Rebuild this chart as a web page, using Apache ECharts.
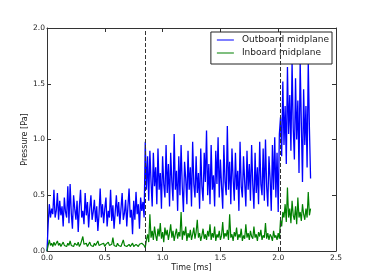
<!DOCTYPE html>
<html>
<head>
<meta charset="utf-8">
<script src="https://cdn.jsdelivr.net/npm/echarts@6/dist/echarts.min.js"></script>
<style>html,body{margin:0;padding:0;background:#fff}#c{width:374px;height:280px}</style>
</head>
<body>
<div id="c"></div>
<script>
// sampling grid of the time axis (ms)
const timeStart = 0.0;
const timeStep = 0.01;
const xTicks = [0.0, 0.5, 1.0, 1.5, 2.0, 2.5];
const yTicks = [0.0, 0.5, 1.0, 1.5, 2.0];
const seriesNames = ['Outboard midplane', 'Inboard midplane'];
const seriesColors = ['#0000ff', '#008000'];
const transitionTimes = [0.848, 2.016];

const outboard = [
0.00,0.24,0.42,0.30,0.38,0.33,0.55,0.30,0.36,0.52,
0.28,0.45,0.32,0.40,0.22,0.48,0.35,0.30,0.58,0.25,
0.60,0.34,0.20,0.50,0.38,0.28,0.45,0.17,0.40,0.55,
0.30,0.36,0.24,0.52,0.32,0.44,0.21,0.38,0.50,0.28,
0.35,0.46,0.26,0.40,0.18,0.33,0.56,0.30,0.42,0.25,
0.38,0.48,0.22,0.36,0.30,0.55,0.27,0.41,0.20,0.35,
0.50,0.31,0.44,0.24,0.38,0.52,0.28,0.34,0.46,0.22,
0.40,0.56,0.30,0.37,0.15,0.45,0.28,0.53,0.33,0.42,
0.20,0.48,0.36,0.44,0.30,
0.98,0.55,0.85,0.45,0.90,0.62,0.40,0.88,0.58,0.75,
0.42,0.92,0.55,0.70,0.38,0.85,0.60,0.48,0.95,0.52,
0.78,0.40,0.88,0.62,0.45,1.05,0.55,0.72,0.36,0.85,
0.50,0.95,0.58,0.35,0.80,0.65,0.42,0.90,0.55,0.75,
0.40,0.98,0.60,0.48,0.85,0.52,0.70,0.38,0.92,0.58,
0.45,0.88,0.62,1.08,0.50,0.78,0.42,0.95,0.55,0.68,
0.40,0.90,0.60,1.02,0.48,0.82,0.58,0.38,0.95,0.62,
0.50,1.12,0.55,0.80,0.42,0.92,0.65,0.45,0.88,0.55,
0.72,0.36,0.98,0.58,0.48,0.85,0.62,0.40,0.90,0.55,
0.78,0.45,0.95,0.60,0.38,0.88,0.52,0.75,0.42,0.98,
0.60,0.50,0.92,0.45,1.00,0.58,0.40,0.85,0.65,0.36,
0.95,0.55,1.02,0.48,0.88,0.35,1.05,
1.20,0.85,1.52,0.95,1.30,0.78,1.65,1.05,1.40,0.90,
1.70,1.10,0.82,1.55,1.00,1.35,0.70,1.70,1.15,0.62,
1.45,0.95,1.30,0.75,1.70,1.10,0.65
];

const inboard = [
0.00,0.01,0.10,0.05,0.07,0.04,0.08,0.05,0.06,0.09,
0.05,0.07,0.04,0.06,0.08,0.05,0.06,0.04,0.07,0.05,
0.09,0.05,0.06,0.04,0.07,0.06,0.05,0.08,0.04,0.06,
0.05,0.13,0.06,0.05,0.07,0.04,0.06,0.08,0.05,0.06,
0.04,0.07,0.05,0.06,0.09,0.05,0.04,0.06,0.05,0.07,
0.04,0.06,0.05,0.08,0.05,0.04,0.06,0.12,0.05,0.06,
0.04,0.07,0.05,0.06,0.04,0.05,0.10,0.05,0.06,0.04,
0.05,0.06,0.04,0.05,0.07,0.04,0.05,0.06,0.05,0.04,
0.06,0.05,0.07,0.06,0.05,
0.03,0.10,0.15,0.08,0.33,0.12,0.18,0.10,0.22,0.14,
0.09,0.20,0.13,0.25,0.11,0.17,0.08,0.21,0.14,0.19,
0.10,0.16,0.24,0.12,0.18,0.09,0.15,0.20,0.11,0.17,
0.13,0.35,0.10,0.18,0.14,0.22,0.09,0.16,0.12,0.19,
0.10,0.15,0.21,0.11,0.17,0.28,0.12,0.16,0.09,0.14,
0.20,0.11,0.15,0.10,0.18,0.13,0.24,0.10,0.16,0.12,
0.22,0.09,0.15,0.12,0.18,0.10,0.14,0.26,0.11,0.16,
0.13,0.19,0.10,0.33,0.12,0.15,0.09,0.17,0.13,0.21,
0.10,0.15,0.12,0.20,0.09,0.14,0.11,0.24,0.12,0.16,
0.10,0.18,0.13,0.11,0.22,0.12,0.15,0.09,0.17,0.13,
0.19,0.10,0.14,0.12,0.25,0.11,0.16,0.10,0.15,0.13,
0.09,0.18,0.12,0.14,0.10,0.16,0.11,
0.28,0.22,0.35,0.30,0.42,0.26,0.57,0.30,0.38,0.25,
0.45,0.32,0.28,0.40,0.24,0.48,0.30,0.35,0.27,0.42,
0.33,0.28,0.38,0.30,0.53,0.32,0.38
];

const toPairs = arr => arr.map((v, i) => [+(timeStart + i * timeStep).toFixed(4), v]);

const FONT = 'DejaVu Sans';
const AX = '#333';
const fmt = v => v.toFixed(1);
// thin horizontal stroke, padded to a 17x10 box so it is not stretched
const LINE_ICON = 'path://M0,0L0.01,0L0.01,0.01Z M0,4.5L17,4.5L17,5.5L0,5.5Z M16.99,10L17,10L17,9.99Z';

const xBase = {
  type: 'value', min: xTicks[0], max: xTicks[xTicks.length - 1],
  interval: xTicks[1] - xTicks[0],
  axisLine: { show: true, onZero: false, lineStyle: { color: AX, width: 1 } },
  axisTick: { show: true, inside: true, length: 4, lineStyle: { color: AX } },
  splitLine: { show: false }
};
const yBase = {
  type: 'value', min: yTicks[0], max: yTicks[yTicks.length - 1],
  interval: yTicks[1] - yTicks[0],
  axisLine: { show: true, onZero: false, lineStyle: { color: AX, width: 1 } },
  axisTick: { show: true, inside: true, length: 4, lineStyle: { color: AX } },
  splitLine: { show: false }
};

const chart = echarts.init(document.getElementById('c'), null, { renderer: 'canvas' });
chart.setOption({
  animation: false,
  backgroundColor: '#fff',
  textStyle: { fontFamily: FONT },
  grid: { left: 47, right: 38, top: 28, bottom: 29, containLabel: false },
  xAxis: [
    Object.assign({}, xBase, {
      position: 'bottom',
      name: 'Time [ms]', nameLocation: 'middle', nameGap: 13, nameMoveOverlap: false,
      nameTextStyle: { fontFamily: FONT, fontSize: 8, color: '#222' },
      axisLabel: { show: true, fontFamily: FONT, fontSize: 7.5, color: '#222', margin: 3, formatter: fmt }
    }),
    Object.assign({}, xBase, { position: 'top', axisLabel: { show: false } })
  ],
  yAxis: [
    Object.assign({}, yBase, {
      position: 'left',
      name: 'Pressure [Pa]', nameLocation: 'middle', nameGap: 18, nameRotate: 90, nameMoveOverlap: false,
      nameTextStyle: { fontFamily: FONT, fontSize: 8, color: '#222' },
      axisLabel: { show: true, fontFamily: FONT, fontSize: 7.5, color: '#222', margin: 2, formatter: fmt }
    }),
    Object.assign({}, yBase, { position: 'right', axisLabel: { show: false } })
  ],
  legend: {
    data: seriesNames.map((n, i) => ({
      name: n,
      icon: LINE_ICON,
      itemStyle: { color: seriesColors[i], borderWidth: 0 }
    })),
    orient: 'vertical',
    right: 42, top: 32,
    backgroundColor: '#fff',
    borderColor: '#222', borderWidth: 1, borderRadius: 0,
    padding: [3, 3, 6, 6],
    itemWidth: 17, itemHeight: 10, itemGap: 3,
    textStyle: { fontFamily: FONT, fontSize: 9, color: '#222', padding: [0, 0, 0, 3] }
  },
  series: [
    {
      name: seriesNames[0], type: 'line', xAxisIndex: 0, yAxisIndex: 0,
      data: toPairs(outboard), symbol: 'none', showSymbol: false,
      lineStyle: { color: seriesColors[0], width: 1.3 }, itemStyle: { color: seriesColors[0] },
      z: 2,
      markLine: {
        silent: true, symbol: ['none', 'none'], animation: false,
        label: { show: false },
        lineStyle: { color: '#333', type: [4, 2], width: 1 },
        data: transitionTimes.map(t => ({ xAxis: t }))
      }
    },
    {
      name: seriesNames[1], type: 'line', xAxisIndex: 0, yAxisIndex: 0,
      data: toPairs(inboard), symbol: 'none', showSymbol: false,
      lineStyle: { color: seriesColors[1], width: 1.2 }, itemStyle: { color: seriesColors[1] },
      z: 3
    }
  ]
});
</script>
</body>
</html>
